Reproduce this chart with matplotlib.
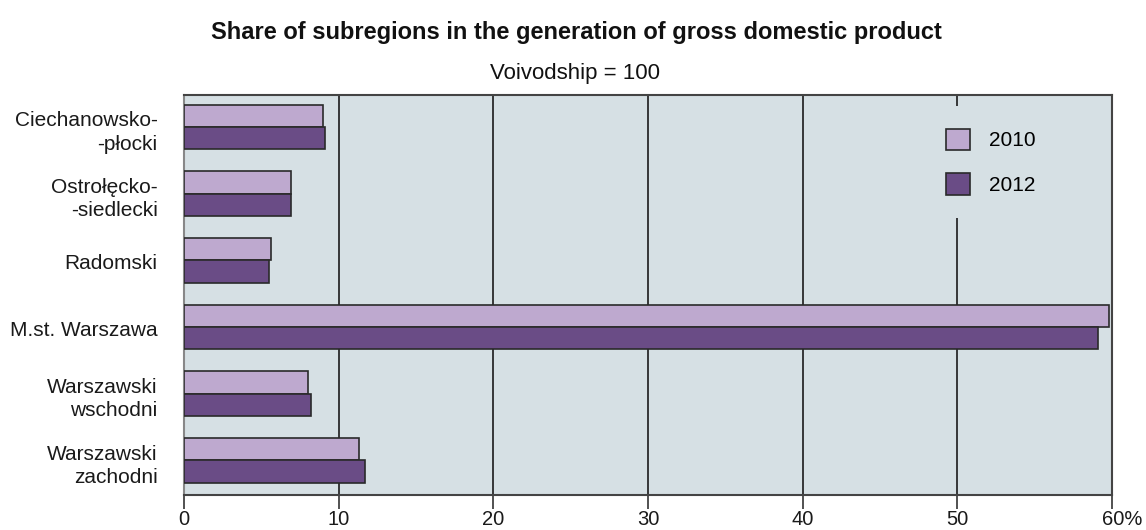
import matplotlib
matplotlib.use('Agg')
import matplotlib.pyplot as plt
import matplotlib.transforms as mtransforms
import numpy as np
from matplotlib.patches import Patch

plt.rcParams['font.family'] = ['Liberation Sans', 'DejaVu Sans']

# data (% of voivodship GDP)
subregions = ['Ciechanowsko-\n-płocki', 'Ostrołęcko-\n-siedlecki', 'Radomski',
              'M.st. Warszawa', 'Warszawski\nwschodni', 'Warszawski\nzachodni']
share_2010 = [9.0, 6.9, 5.6, 59.8, 8.0, 11.3]
share_2012 = [9.1, 6.9, 5.5, 59.1, 8.2, 11.7]
xticks = [0, 10, 20, 30, 40, 50, 60]
xticklabels = ['0', '10', '20', '30', '40', '50', '60%']

bg = '#d6e0e4'
c2010 = '#bea9cf'
c2012 = '#6a4c86'
edge = '#2a2a2a'

fig = plt.figure(figsize=(11.46, 5.30), dpi=100)
ax = fig.add_axes([0.1606, 0.066, 0.8098, 0.755])
ax.set_facecolor(bg)

y = np.arange(len(subregions))
h = 0.335
ax.barh(y - h/2 - 0.02, share_2010, height=h, color=c2010, edgecolor=edge, linewidth=1.2, zorder=3, label='2010')
ax.barh(y + h/2 - 0.02, share_2012, height=h, color=c2012, edgecolor=edge, linewidth=1.2, zorder=3, label='2012')

ax.set_xlim(0, 60)
ax.set_ylim(len(subregions) - 0.5, -0.5)
ax.set_xticks(xticks)
ax.set_xticklabels(xticklabels, fontsize=14.5, color='#1a1a1a')
ax.set_yticks(y)
ax.set_yticklabels(subregions, fontsize=15, color='#1a1a1a', linespacing=1.3)
ax.tick_params(axis='y', length=0, pad=19)
ax.tick_params(axis='x', length=10, width=1.2, color='#333333', pad=0.5)
# "60%": keep the number centred on its tick, percent sign hangs right
lab60 = ax.get_xticklabels()[-1]
lab60.set_transform(lab60.get_transform() + mtransforms.ScaledTranslation(10/100, 0, fig.dpi_scale_trans))
for xv in xticks[1:-1]:
    ax.axvline(xv, color='#2a2a2a', linewidth=1.3, zorder=1)

ax.spines['left'].set_color('#888888')
ax.spines['left'].set_linewidth(1.5)
for s in ['top', 'right', 'bottom']:
    ax.spines[s].set_color('#444444')
    ax.spines[s].set_linewidth(1.5)

handles = [Patch(facecolor=c2010, edgecolor=edge, linewidth=1.2, label='2010'),
           Patch(facecolor=c2012, edgecolor=edge, linewidth=1.2, label='2012')]
leg = ax.legend(handles=handles, loc='upper left', bbox_to_anchor=(0.796, 0.9725),
                fontsize=15, frameon=True, facecolor=bg, edgecolor='none', framealpha=1,
                handlelength=1.15, handleheight=1.2, handletextpad=0.95,
                labelspacing=1.1, borderpad=1.1, borderaxespad=0)
leg.set_zorder(5)

fig.text(0.503, 0.926, 'Share of subregions in the generation of gross domestic product',
         ha='center', va='baseline', fontsize=17, fontweight='bold', color='#111111')
fig.text(0.502, 0.861, 'Voivodship = 100', ha='center', va='center', fontsize=16, color='#111111')

fig.savefig('out.png', dpi=100)
